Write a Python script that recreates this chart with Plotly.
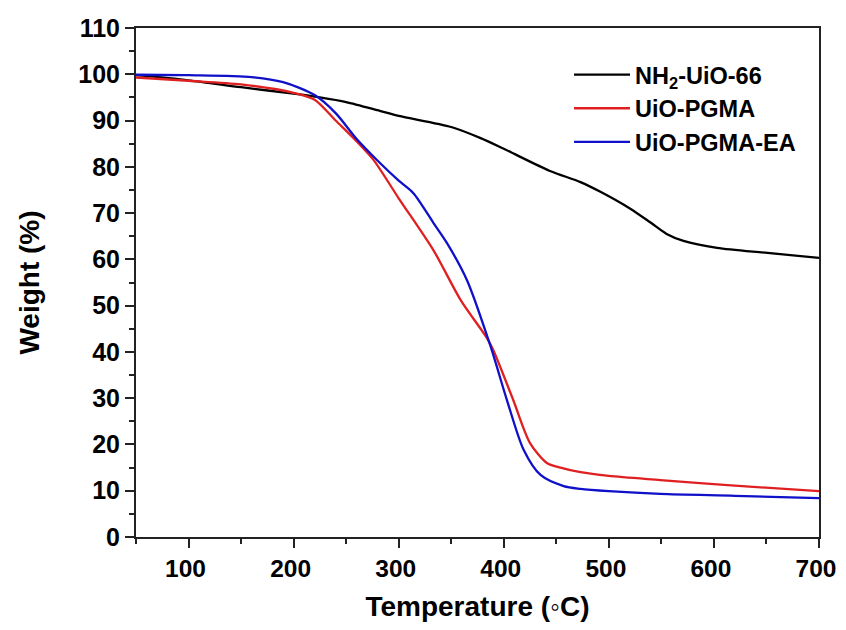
import plotly.graph_objects as go

# Data
nh2_x = [50, 100, 150, 200, 225, 250, 282, 300, 350, 378, 400, 444, 473, 492, 520, 540, 555, 571, 603, 651, 700]
nh2_y = [99.8, 98.7, 97.2, 95.8, 95.0, 94.0, 92.1, 91.0, 88.6, 86.2, 83.9, 79.1, 76.7, 74.6, 71.0, 67.9, 65.5, 64.0, 62.5, 61.4, 60.3]

pgma_x = [50, 100, 150, 200, 220, 240, 260, 276, 300, 333, 359, 384, 390, 409, 425, 441, 454, 473, 500, 549, 613, 700]
pgma_y = [99.3, 98.6, 97.8, 96.0, 94.5, 90.0, 85.5, 81.5, 73.2, 62.0, 51.2, 43.0, 40.4, 29.6, 20.3, 16.0, 15.0, 14.0, 13.2, 12.3, 11.2, 9.9]

ea_x = [50, 100, 160, 190, 220, 240, 260, 280, 300, 314, 333, 346, 365, 387, 403, 419, 435, 457, 473, 500, 549, 620, 700]
ea_y = [99.9, 99.8, 99.4, 98.3, 95.5, 91.6, 86.0, 81.3, 77.0, 74.3, 67.9, 63.5, 55.5, 41.5, 29.6, 18.8, 13.4, 11.0, 10.4, 9.9, 9.3, 8.9, 8.4]

x_ticks = [100, 200, 300, 400, 500, 600, 700]
x_minor = [50, 150, 250, 350, 450, 550, 650]

series_names = ["NH<sub>2</sub>-UiO-66", "UiO-PGMA", "UiO-PGMA-EA"]
series_colors = ["#000000", "#e02020", "#1010c8"]

FONT = "Arial, Liberation Sans, sans-serif"

fig = go.Figure()
for xs, ys, name, col in zip([nh2_x, pgma_x, ea_x], [nh2_y, pgma_y, ea_y], series_names, series_colors):
    fig.add_trace(go.Scatter(x=xs, y=ys, mode="lines", name=name,
                             line=dict(color=col, width=2.3, shape="spline", smoothing=0.8)))

# the page body adds an 8px margin, so the figure is sized to fit inside it
fig.update_layout(
    width=830, height=614,
    margin=dict(l=128, r=19, t=20, b=85),
    plot_bgcolor="white", paper_bgcolor="white",
    font=dict(family=FONT, color="black"),
    legend=dict(x=0.634, y=0.951, xanchor="left", yanchor="top",
                font=dict(size=23.5, family=FONT, color="black", weight="bold"),
                bgcolor="rgba(0,0,0,0)", itemwidth=56, tracegroupgap=0),
    xaxis=dict(range=[50, 700], tickmode="array", tickvals=x_ticks,
               ticks="outside", ticklen=9, tickwidth=2, tickcolor="#222",
               showline=True, linewidth=2, linecolor="#222", mirror=True,
               showgrid=False, zeroline=False, automargin=False,
               ticklabeloverflow="allow", ticklabelshift=-3,
               tickfont=dict(size=24.5, family=FONT, color="black", weight="bold"),
               title=dict(text="Temperature (\u25e6C)", standoff=24,
                          font=dict(size=28, family=FONT, color="black", weight="bold")),
               minor=dict(tickmode="array", tickvals=x_minor, ticks="outside",
                          ticklen=5, tickwidth=2, tickcolor="#222")),
    yaxis=dict(range=[0, 110], tickmode="linear", tick0=0, dtick=10,
               ticks="outside", ticklen=9, tickwidth=2, tickcolor="#222",
               showline=True, linewidth=2, linecolor="#222", mirror=True,
               showgrid=False, zeroline=False, automargin=False,
               tickfont=dict(size=25, family=FONT, color="black", weight="bold"),
               title=dict(text="Weight (%)", standoff=30,
                          font=dict(size=28, family=FONT, color="black", weight="bold")),
               minor=dict(tickmode="linear", tick0=5, dtick=10, ticks="outside",
                          ticklen=5, tickwidth=2, tickcolor="#222")),
)

fig.write_html("out.html")
